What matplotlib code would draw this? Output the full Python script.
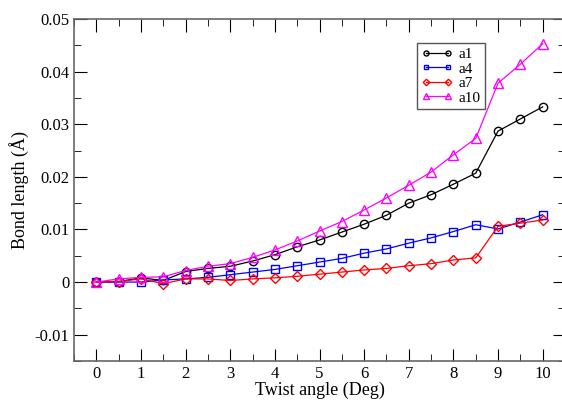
import numpy as np
import matplotlib
matplotlib.use("Agg")
import matplotlib.pyplot as plt
from matplotlib.ticker import MultipleLocator, FixedLocator

plt.rcParams['font.family'] = ['Liberation Serif', 'DejaVu Serif']

# twist angles and bond length changes
angle = [0, 0.5, 1, 1.5, 2, 2.5, 3, 3.5, 4, 4.5, 5, 5.5, 6, 6.5, 7, 7.5, 8, 8.5, 9, 9.5, 10]
a1 = [0, 0.0001, 0.0008, 0.0003, 0.0020, 0.0026, 0.0030, 0.0040, 0.0052, 0.0067,
      0.0080, 0.0095, 0.0110, 0.0127, 0.0150, 0.0166, 0.0186, 0.0207, 0.0287, 0.0310, 0.0333]
a4 = [0, 0.0, 0.0, 0.0004, 0.0006, 0.0009, 0.0014, 0.0019, 0.0024, 0.0031,
      0.0038, 0.0045, 0.0055, 0.0063, 0.0074, 0.0084, 0.0096, 0.0109, 0.0101, 0.0114, 0.0128]
a7 = [0, 0.0001, 0.0006, -0.0003, 0.0006, 0.0006, 0.0003, 0.0006, 0.0008, 0.0011,
      0.0015, 0.0019, 0.0023, 0.0026, 0.0031, 0.0035, 0.0042, 0.0046, 0.0106, 0.0112, 0.0118]
a10 = [0, 0.0006, 0.0009, 0.0010, 0.0022, 0.0030, 0.0035, 0.0047, 0.0061, 0.0078,
       0.0097, 0.0115, 0.0137, 0.0160, 0.0184, 0.0209, 0.0242, 0.0273, 0.0378, 0.0414, 0.0453]

fig = plt.figure(figsize=(5.62, 4.03), dpi=100)
ax = fig.add_axes([74/562, 42/403, 491/562, 342/403])

ax.plot(angle, a1, color="black", marker="o", mfc="none", ms=6, lw=0.9, label="a1")
ax.plot(angle, a4, color="blue", marker="s", mfc="none", ms=6, lw=0.9, label="a4")
ax.plot(angle, a7, color="red", marker="D", mfc="none", ms=5.5, lw=0.9, label="a7")
ax.plot(angle, a10, color="magenta", marker="^", mfc="none", ms=7, lw=0.9, label="a10")

ax.set_xlim(-0.5, 10.5)
ax.set_ylim(-0.015, 0.05)
ax.xaxis.set_major_locator(MultipleLocator(1))
ax.xaxis.set_minor_locator(MultipleLocator(0.5))
ax.yaxis.set_major_locator(FixedLocator([-0.01, 0, 0.01, 0.02, 0.03, 0.04, 0.05]))
ax.yaxis.set_minor_locator(MultipleLocator(0.005))
ax.set_yticklabels(["-0.01", "0", "0.01", "0.02", "0.03", "0.04", "0.05"])
ax.tick_params(which="both", direction="in", top=True, right=True, labelsize=12)
ax.tick_params(which="major", length=9)
ax.tick_params(which="minor", length=5)
for s in ax.spines.values():
    s.set_color("#666666")
    s.set_linewidth(1.2)

ax.set_xlabel("Twist angle (Deg)", fontsize=13, labelpad=0)
ax.set_ylabel("Bond length (Å)", fontsize=13)

leg = ax.legend(loc="upper left", bbox_to_anchor=(0.699, 0.93), borderaxespad=0,
                numpoints=2, markerscale=0.6, fontsize=11, fancybox=False,
                handlelength=2.0, handletextpad=0.4, borderpad=0.3,
                labelspacing=0.05, framealpha=1)
leg.get_frame().set_edgecolor("#555555")
leg.get_frame().set_linewidth(1)

fig.savefig("out.png", dpi=100)
